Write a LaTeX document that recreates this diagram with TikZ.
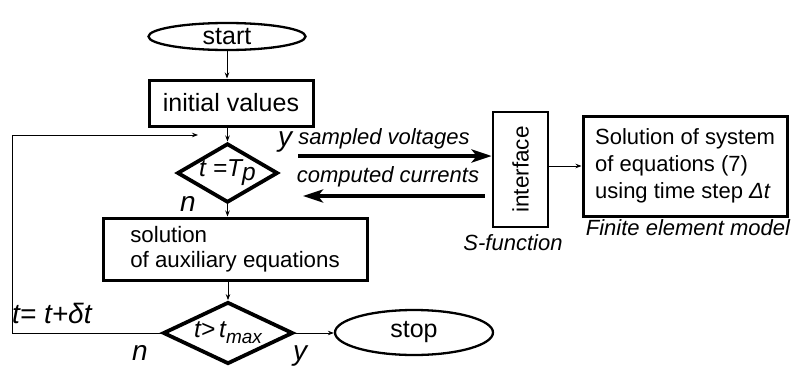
\documentclass[tikz,border=0pt]{standalone}
\usepackage{fontspec}
\setmainfont{Liberation Sans}
\usetikzlibrary{shapes.geometric,arrows.meta}
\newcommand{\fsz}[1]{\fontsize{#1}{#1}\selectfont}
\tikzset{
  box/.style={draw, line width=3pt, inner sep=0pt},
  term/.style={draw, ellipse, line width=2.3pt, inner sep=0pt, font=\fsz{25}},
  decide/.style={draw, diamond, aspect=1.7, line width=3.8pt, inner sep=0pt, font=\fsz{24.5}\itshape},
  thinarrow/.style={line width=0.8pt, -{Stealth[length=6pt,width=4.5pt]}},
  bigarrow/.style={line width=3.8pt, -{Stealth[length=20pt,width=13pt,inset=5pt]}},
  lbl/.style={inner sep=0pt, font=\fsz{22}\itshape},
  yn/.style={inner sep=0pt, font=\fsz{28}\itshape},
}
\begin{document}
\begin{tikzpicture}[x=1pt,y=-1pt]
\useasboundingbox (0,0) rectangle (792,367);

\node[term, minimum width=157pt, minimum height=27pt] (start) at (227,36.5) {start};
\node[box, minimum width=164pt, minimum height=46pt, font=\fsz{25}] (init) at (231,103) {initial values};
\node[decide, minimum width=99pt, minimum height=58pt] (d1) at (227.5,173) {t =T\raisebox{-4pt}{p}};
\node[box, minimum width=264pt, minimum height=62pt, align=left, font=\fontsize{22.3}{25.5}\selectfont] (sol) at (235,249) {solution\\of auxiliary equations};
\node[decide, minimum width=130pt, minimum height=60pt] (d2) at (228,333) {t>\,t\raisebox{-6pt}{\fsz{19}max}};
\node[term, minimum width=158pt, minimum height=45pt] (stop) at (414,332.5) {stop};

\node[box, line width=2.7pt, minimum width=55pt, minimum height=115pt, font=\fsz{22.5}] (iface) at (520.5,169.5) {\rotatebox{90}{interface}};
\node[box, minimum width=204pt, minimum height=100pt, align=left, font=\fontsize{22}{27}\selectfont] (fe) at (685,166) {Solution of system\\of equations (7)\\using time step \textit{Δt}};

% labels
\node[yn] (y1) at (285,142) {y};
\node[yn] (n1) at (188,204) {n};
\node[lbl] (sv) at (384,139) {sampled voltages};
\node[lbl] (cc) at (388,177) {computed currents};
\node[lbl] (sf) at (513,243) {S-function};
\node[lbl] (fem) at (688,228) {Finite element model};
\node[yn, anchor=west] (inc) at (12,313) {t= t+δt};
\node[yn] (n2) at (140,353) {n};
\node[yn] (y2) at (300,356) {y};

% connectors
\draw[thinarrow] (start.south) -- (start.south |- init.north);
\draw[thinarrow] (init.south -| d1.north) -- (d1.north);
\draw[thinarrow] (d1.south) -- (d1.south |- sol.north);
\draw[thinarrow] (sol.south -| d2.north) -- (d2.north);
\draw[thinarrow] (d2.east) -- (stop.west |- d2.east);
\coordinate (loopcorner) at (12,135);
\coordinate (loopend) at (198,135);
\draw[thinarrow] (d2.west) -| (loopcorner) -- (loopend);

\coordinate (svstart) at (298,156);
\draw[bigarrow] (svstart) -- (svstart -| iface.west);
\coordinate (ccend) at (303,196);
\draw[bigarrow] ([xshift=-7pt]iface.west |- ccend) -- (ccend);
\draw[thinarrow] (iface.east |- fe.west) -- (fe.west);
\end{tikzpicture}
\end{document}
